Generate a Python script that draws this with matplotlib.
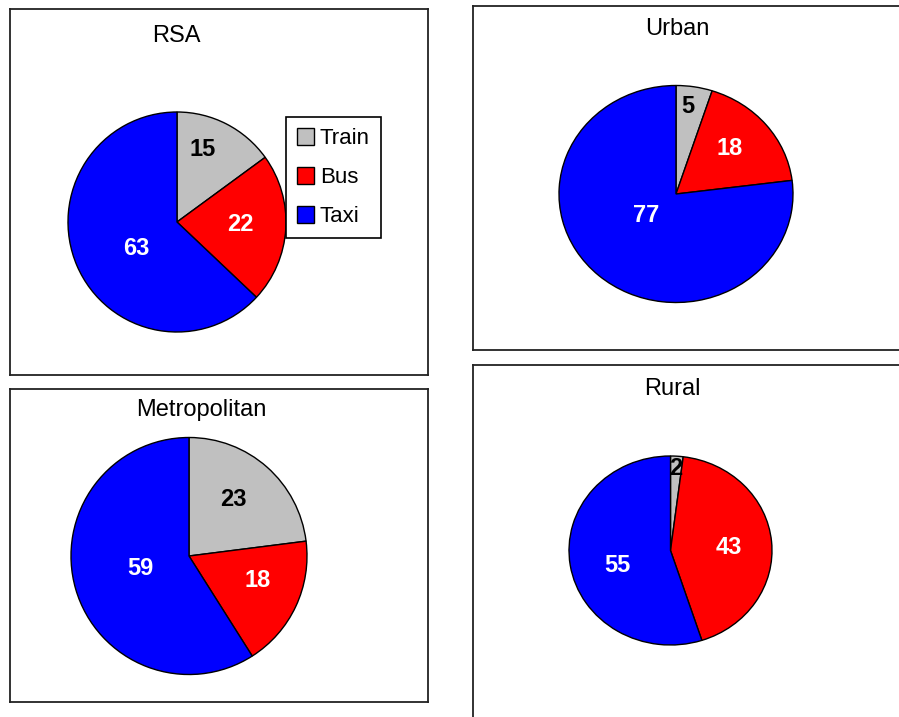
import numpy as np
import matplotlib.pyplot as plt
from matplotlib.patches import Patch

plt.rcParams['font.family'] = ['Liberation Sans', 'DejaVu Sans']

# data
modes = ['Train', 'Bus', 'Taxi']
colours = ['#c0c0c0', '#ff0000', '#0000ff']
text_colours = ['black', 'white', 'white']

titles = ['RSA', 'Urban', 'Metropolitan', 'Rural']
rsa = [15, 22, 63]
urban = [5, 18, 77]
metro = [23, 18, 59]
rural = [2, 43, 55]
shares = [rsa, urban, metro, rural]

W, H = 899, 717


def fx(px):
    return px / W


def fy(py):
    return 1 - py / H


# layout, in pixels of the final picture
boxes = [(10, 9, 428, 375), (473, 6, 930, 350), (10, 389, 428, 702), (473, 365, 930, 740)]
pies = [(177, 222, 109, 110), (676, 194, 117, 108.5), (189, 556, 118, 118.5), (670.5, 550.5, 101.5, 94.5)]
title_pos = [(176, 42), (677, 35), (201, 416), (672, 395)]
# where the numbers go: fraction of the radius, and turn (deg) away from the wedge middle
label_dist = [[0.72, 0.58, 0.43], [0.84, 0.64, 0.31], [0.62, 0.61, 0.42], [0.9, 0.58, 0.54]]
label_turn = [[8, 3.6, 6.9], [2, 4.3, -15], [4.2, 7.3, -4.7], [0, 0, 5]]

fig = plt.figure(figsize=(W / 100, H / 100), dpi=100)

for i in range(4):
    # panel frame
    l, t, r, b = boxes[i]
    box = fig.add_axes([fx(l), fy(b), fx(r - l), (b - t) / H])
    box.set_xticks([])
    box.set_yticks([])
    for s in box.spines.values():
        s.set_linewidth(1.3)
        s.set_color('#222222')

    fig.text(fx(title_pos[i][0]), fy(title_pos[i][1]), titles[i],
             ha='center', va='baseline', fontsize=17)

    # the pie itself
    cx, cy, rx, ry = pies[i]
    ax = fig.add_axes([fx(cx - rx), fy(cy + ry), fx(2 * rx), 2 * ry / H])
    wedges, _ = ax.pie(shares[i], colors=colours, startangle=90, counterclock=False,
                       wedgeprops=dict(edgecolor='black', linewidth=1.0))
    ax.set_aspect('auto')
    ax.set_xlim(-1, 1)
    ax.set_ylim(-1, 1)
    ax.axis('off')
    for w, d, dt, v, c in zip(wedges, label_dist[i], label_turn[i], shares[i], text_colours):
        w.set_clip_on(False)
        ang = np.deg2rad((w.theta1 + w.theta2) / 2 + dt)
        ax.text(d * np.cos(ang), d * np.sin(ang), str(v), color=c,
                ha='center', va='center_baseline', fontsize=17, fontweight='bold')

# legend sits in the RSA panel
handles = [Patch(facecolor=c, edgecolor='black', linewidth=1.0) for c in colours]
leg = fig.legend(handles, modes, loc='upper left', bbox_to_anchor=(fx(286), fy(117)),
                 fontsize=16, frameon=True, fancybox=False, edgecolor='black', framealpha=1,
                 borderaxespad=0, handlelength=0.8, handleheight=0.8, handletextpad=0.25,
                 labelspacing=0.8, borderpad=0.48)
leg.get_frame().set_linewidth(1.2)

fig.savefig('out.png', dpi=100)
